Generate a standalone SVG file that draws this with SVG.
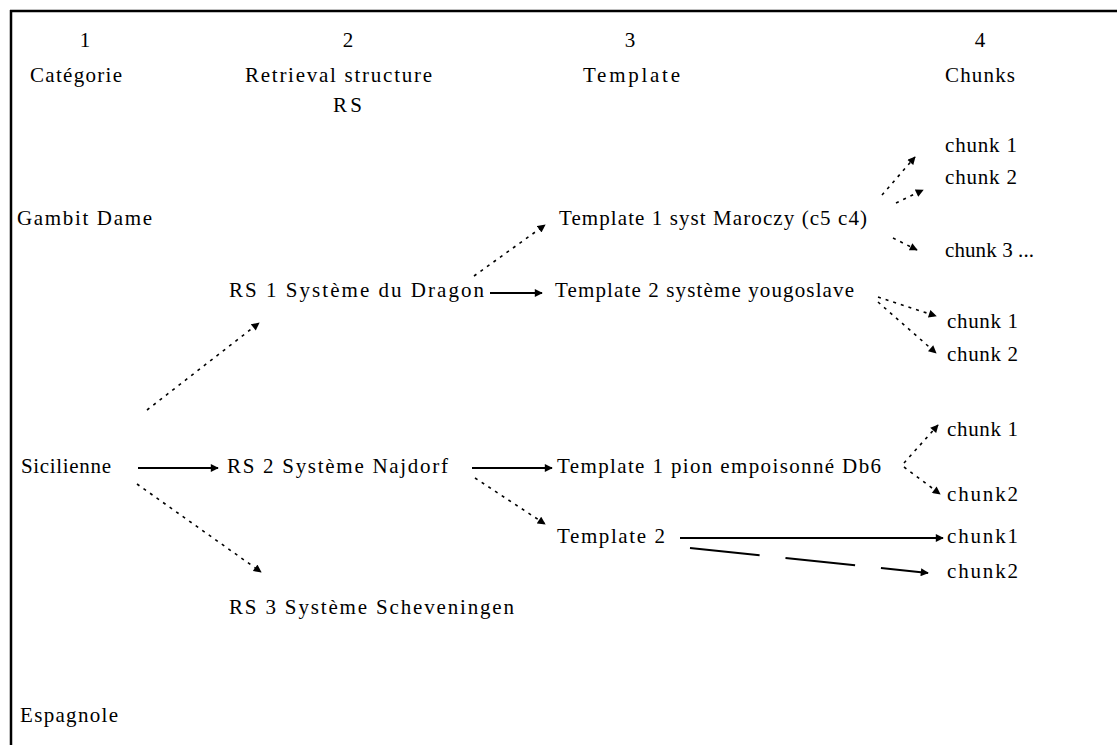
<svg xmlns="http://www.w3.org/2000/svg" width="1117" height="745" viewBox="0 0 1117 745">
  <style>
    text { font-family: "Liberation Serif", "Times New Roman", serif; font-size: 21px; fill: #000; }
    .mid { text-anchor: middle; }
    .solid { stroke: #000; stroke-width: 2; fill: none; }
    .dot { stroke: #000; stroke-width: 1.6; fill: none; stroke-dasharray: 3 5; }
    .dash { stroke: #000; stroke-width: 2; fill: none; stroke-dasharray: 70 26; }
  </style>
  <defs>
    <marker id="head" viewBox="0 0 10 10" refX="9" refY="5" markerWidth="9" markerHeight="8" markerUnits="userSpaceOnUse" orient="auto">
      <path d="M0,0 L10,5 L0,10 Z" fill="#000"/>
    </marker>
  </defs>

  <rect width="1117" height="745" fill="#fff"/>

  <!-- frame -->
  <g id="frame">
    <line x1="10" y1="11" x2="1117" y2="11" stroke="#000" stroke-width="2.5"/>
    <line x1="11" y1="10" x2="11" y2="745" stroke="#000" stroke-width="2.5"/>
  </g>

  <!-- column headers -->
  <g id="col1">
    <text class="mid" x="85" y="47">1</text>
    <text x="30" y="82" textLength="92" lengthAdjust="spacing">Catégorie</text>
  </g>
  <g id="col2">
    <text class="mid" x="348" y="47">2</text>
    <text x="245" y="82" textLength="187" lengthAdjust="spacing">Retrieval structure</text>
    <text x="333" y="112" textLength="29" lengthAdjust="spacing">RS</text>
  </g>
  <g id="col3">
    <text class="mid" x="630" y="47">3</text>
    <text x="583" y="82" textLength="97" lengthAdjust="spacing">Template</text>
  </g>
  <g id="col4">
    <text class="mid" x="980" y="47">4</text>
    <text x="945" y="82" textLength="70" lengthAdjust="spacing">Chunks</text>
  </g>

  <!-- categories -->
  <g id="gambit-dame"><text x="17" y="225" textLength="135" lengthAdjust="spacing">Gambit Dame</text></g>
  <g id="sicilienne"><text x="21" y="473" textLength="90" lengthAdjust="spacing">Sicilienne</text></g>
  <g id="espagnole"><text x="20" y="722" textLength="98" lengthAdjust="spacing">Espagnole</text></g>

  <!-- retrieval structures -->
  <g id="rs1"><text x="229" y="297" textLength="255" lengthAdjust="spacing">RS 1  Système du Dragon</text></g>
  <g id="rs2"><text x="227" y="473" textLength="221" lengthAdjust="spacing">RS 2 Système Najdorf</text></g>
  <g id="rs3"><text x="229" y="614" textLength="285" lengthAdjust="spacing">RS 3  Système Scheveningen</text></g>

  <!-- templates -->
  <g id="t-maroczy"><text x="559" y="225" textLength="308" lengthAdjust="spacing">Template 1 syst Maroczy (c5 c4)</text></g>
  <g id="t-yougoslave"><text x="555" y="297" textLength="299" lengthAdjust="spacing">Template 2 système yougoslave</text></g>
  <g id="t-pion"><text x="557" y="473" textLength="324" lengthAdjust="spacing">Template 1 pion empoisonné Db6</text></g>
  <g id="t-najdorf2"><text x="557" y="543" textLength="108" lengthAdjust="spacing">Template 2</text></g>

  <!-- chunks -->
  <g id="c-a1"><text x="945" y="152" textLength="72" lengthAdjust="spacing">chunk 1</text></g>
  <g id="c-a2"><text x="945" y="184" textLength="72" lengthAdjust="spacing">chunk 2</text></g>
  <g id="c-a3"><text x="945" y="257" textLength="89" lengthAdjust="spacing">chunk 3 ...</text></g>
  <g id="c-b1"><text x="947" y="328" textLength="71" lengthAdjust="spacing">chunk 1</text></g>
  <g id="c-b2"><text x="947" y="361" textLength="71" lengthAdjust="spacing">chunk 2</text></g>
  <g id="c-c1"><text x="947" y="436" textLength="71" lengthAdjust="spacing">chunk 1</text></g>
  <g id="c-c2"><text x="947" y="501" textLength="71">chunk2</text></g>
  <g id="c-d1"><text x="947" y="543" textLength="71">chunk1</text></g>
  <g id="c-d2"><text x="947" y="578" textLength="71">chunk2</text></g>

  <!-- connectors -->
  <g id="connectors">
    <line class="dot" x1="147" y1="410" x2="259" y2="323" marker-end="url(#head)"/>
    <line class="solid" x1="138" y1="468" x2="218" y2="468" marker-end="url(#head)"/>
    <line class="dot" x1="137" y1="484" x2="261" y2="572" marker-end="url(#head)"/>

    <line class="dot" x1="474" y1="276" x2="545" y2="225" marker-end="url(#head)"/>
    <line class="solid" x1="490" y1="293" x2="542" y2="293" marker-end="url(#head)"/>
    <line class="solid" x1="472" y1="468" x2="552" y2="468" marker-end="url(#head)"/>
    <line class="dot" x1="475" y1="478" x2="545" y2="524" marker-end="url(#head)"/>

    <line class="dot" x1="882" y1="195" x2="915" y2="157" marker-end="url(#head)"/>
    <line class="dot" x1="896" y1="203" x2="923" y2="190" marker-end="url(#head)"/>
    <line class="dot" x1="893" y1="238" x2="917" y2="250" marker-end="url(#head)"/>

    <line class="dot" x1="878" y1="297" x2="936" y2="316" marker-end="url(#head)"/>
    <line class="dot" x1="878" y1="302" x2="936" y2="353" marker-end="url(#head)"/>

    <line class="dot" x1="904" y1="463" x2="938" y2="425" marker-end="url(#head)"/>
    <line class="dot" x1="904" y1="467" x2="940" y2="494" marker-end="url(#head)"/>

    <line class="solid" x1="680" y1="538" x2="943" y2="538" marker-end="url(#head)"/>
    <line class="dash" x1="690" y1="548" x2="928" y2="573" marker-end="url(#head)"/>
  </g>
</svg>
